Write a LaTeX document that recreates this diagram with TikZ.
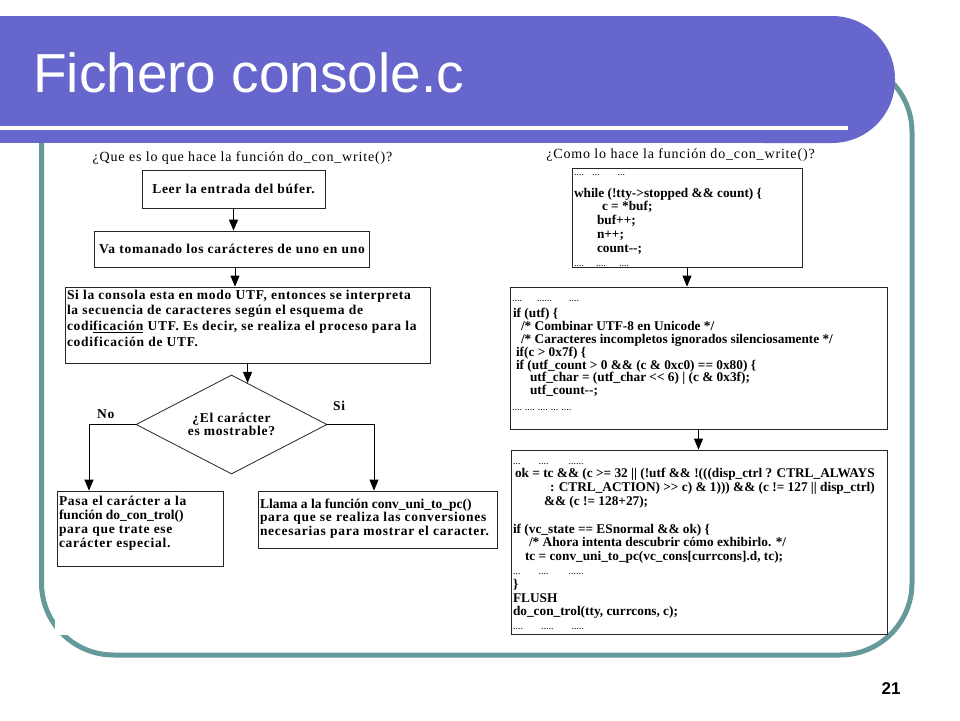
\documentclass[tikz,border=0pt]{standalone}
\usepackage{fontspec}
\setmainfont{Liberation Serif}
\newfontfamily\sansf{Liberation Sans}
\usetikzlibrary{arrows.meta,shapes.geometric,calc}
\definecolor{bandc}{RGB}{102,102,204}
\definecolor{framec}{RGB}{102,153,153}
\newcommand\bx[1]{\fontsize{13.5}{#1}\selectfont\bfseries\addfontfeature{LetterSpace=5.5}}
\newcommand\tight{\addfontfeature{LetterSpace=0}}
\newcommand\hd{\fontsize{14}{15}\selectfont\addfontfeature{LetterSpace=6}}
\newcommand\cd[1]{\fontsize{13.3}{#1}\selectfont\bfseries}
\newcommand\dl[1]{{\fontsize{10}{10}\selectfont\mdseries #1}}
\tikzset{
  box/.style={draw=black!85, line width=0.8pt, fill=white, inner sep=2pt, rectangle},
  arr/.style={draw=black, line width=0.8pt, -{Triangle[width=9pt,length=11pt]}},
  lbl/.style={font=\bx{14}},
}
\begin{document}
\begin{tikzpicture}[x=1pt,y=-1pt]
\useasboundingbox (0,0) rectangle (960,720);
% frame
\draw[framec, line width=5pt, rounded corners=72pt] (41.5,60) rectangle (912,655);
\fill[white] (55,150) rectangle (500,635);
% title band
\fill[bandc] (0,16) rectangle (780,143);
\fill[bandc, rounded corners=63pt] (700,16) rectangle (895,143);
\fill[white] (0,126) rectangle (848,130);
\node[anchor=base west, text=white, inner sep=0, font=\sansf\fontsize{55}{55}\selectfont] (title) at (33,92) {Fichero console.c};
\node[font=\sansf\bfseries\fontsize{17}{17}\selectfont, inner sep=0] (pnum) at (891,689) {21};

% left flowchart
\node[anchor=base, inner sep=0, font=\hd] (h1) at (242.5,161) {¿Que es lo que hace la función do\_con\_write()?};
\node[box, font=\bx{14}, minimum width=183pt, minimum height=38pt] (b1) at (233.5,189) {Leer la entrada del búfer.};
\node[box, font=\bx{14}, minimum width=275pt, minimum height=36pt] (b2) at (232,249) {Va tomanado los carácteres de uno en uno};
\node[box, minimum width=365pt, minimum height=76pt] (b3) at (247.5,325) {\parbox[c][72pt][t]{361pt}{\bx{15.7}\rule{0pt}{10pt}\mbox{Si la consola esta en modo UTF, entonces se interpreta}\\
\mbox{la secuencia de caracteres según el esquema de}\\
\mbox{codi\underline{ficación} UTF. Es decir, se realiza el proceso para la}\\
\mbox{codificación de UTF.}}};
\node[diamond, draw=black!85, line width=0.8pt, fill=white, aspect=2, inner sep=0, minimum width=191pt, minimum height=99pt, align=center, font=\bx{13.5}] (d) at (231.5,424.5) {¿El carácter\\es mostrable?};
\node[box, minimum width=166pt, minimum height=75pt] (b4) at (140,528.5) {\parbox[c][71pt][t]{162pt}{\bx{14}\rule{0pt}{12pt}\mbox{Pasa el carácter a la}\\
\mbox{\tight función do\_con\_trol()}\\
\mbox{para que trate ese}\\
\mbox{carácter especial.}}};
\node[box, minimum width=239pt, minimum height=57pt] (b5) at (377.5,519.5) {\parbox[c][53pt][t]{235pt}{\bx{13.5}\rule{0pt}{15pt}\mbox{\tight Llama a la función conv\_uni\_to\_pc()}\\
\mbox{para que se realiza las conversiones}\\
\mbox{necesarias para mostrar el caracter.}}};
\node[lbl, anchor=base west, inner sep=0] (no) at (97,418) {No};
\node[lbl, anchor=base west, inner sep=0] (si) at (333,410) {Si};

\draw[arr] (b1.south) -- (b1.south |- b2.north);
\draw[arr] ([xshift=3pt]b2.south) -- ([xshift=3pt]b2.south |- b3.north);
\draw[arr] (b3.south) -- ($(d.north)!0.1675!(d.east)$);
\draw[arr] (d.west) -| ([xshift=-51pt]b4.north);
\draw[arr] (d.east) -| ([xshift=-3.5pt]b5.north);

% right flowchart
\node[anchor=base, inner sep=0, font=\hd] (h2) at (680.5,158) {¿Como lo hace la función do\_con\_write()?};
\node[box, minimum width=230pt, minimum height=99pt] (c1) at (687,217.5) {\parbox[c][95pt][t]{226pt}{\cd{13.8}\rule{0pt}{5pt}\dl{....}\hspace*{8pt}\dl{...}\hspace*{18pt}\dl{...}\\[8.2pt]
while (!tty->stopped \&\& count) \{\\
\hspace*{28pt}c = *buf;\\
\hspace*{23pt}buf++;\\
\hspace*{23pt}n++;\\
\hspace*{23pt}count-{}-;\\
\dl{....}\hspace*{12pt}\dl{....}\hspace*{13pt}\dl{....}}};
\node[box, minimum width=377pt, minimum height=142pt] (c2) at (698.5,358) {\parbox[c][138pt][t]{373pt}{\cd{12.8}\rule{0pt}{12pt}\dl{....}\hspace*{15pt}\dl{......}\hspace*{17pt}\dl{....}\\[4pt]
\hspace*{1pt}if (utf) \{\\
\hspace*{9pt}/* Combinar UTF-8 en Unicode */\\
\hspace*{9pt}/* Caracteres incompletos ignorados silenciosamente */\\
\hspace*{4pt}if(c > 0x7f) \{\\
\hspace*{4pt}if (utf\_count > 0 \&\& (c \& 0xc0) == 0x80) \{\\
\hspace*{18pt}utf\_char = (utf\_char <{}< 6) | (c \& 0x3f);\\
\hspace*{18pt}utf\_count-{}-;\\[3.5pt]
\dl{....}\hspace*{3pt}\dl{....}\hspace*{3pt}\dl{....}\hspace*{3pt}\dl{...}\hspace*{3pt}\dl{....}}};
\node[box, minimum width=376pt, minimum height=184pt] (c3) at (699,542) {\parbox[c][180pt][t]{372pt}{\cd{13.8}\rule{0pt}{12pt}\dl{...}\hspace*{18pt}\dl{....}\hspace*{20pt}\dl{......}\\
\hspace*{2pt}ok = tc \&\& (c >= 32 || (!utf \&\& !(((disp\_ctrl ? CTRL\_ALWAYS\\
\hspace*{37pt}: CTRL\_ACTION) >{}> c) \& 1))) \&\& (c != 127 || disp\_ctrl)\\
\hspace*{31pt}\&\& (c != 128+27);\\[13.8pt]
if (vc\_state == ESnormal \&\& ok) \{\\
\hspace*{16pt}/* Ahora intenta descubrir cómo exhibirlo. */\\
\hspace*{12pt}tc = conv\_uni\_to\_pc(vc\_cons[currcons].d, tc);\\
\dl{...}\hspace*{18pt}\dl{....}\hspace*{20pt}\dl{......}\\
\}\\
FLUSH\\
do\_con\_trol(tty, currcons, c);\\
\dl{....}\hspace*{18pt}\dl{.....}\hspace*{18pt}\dl{.....}}};

\draw[arr] (c1.south) -- (c1.south |- c2.north);
\draw[arr] (c2.south) -- (c2.south |- c3.north);
\end{tikzpicture}
\end{document}
